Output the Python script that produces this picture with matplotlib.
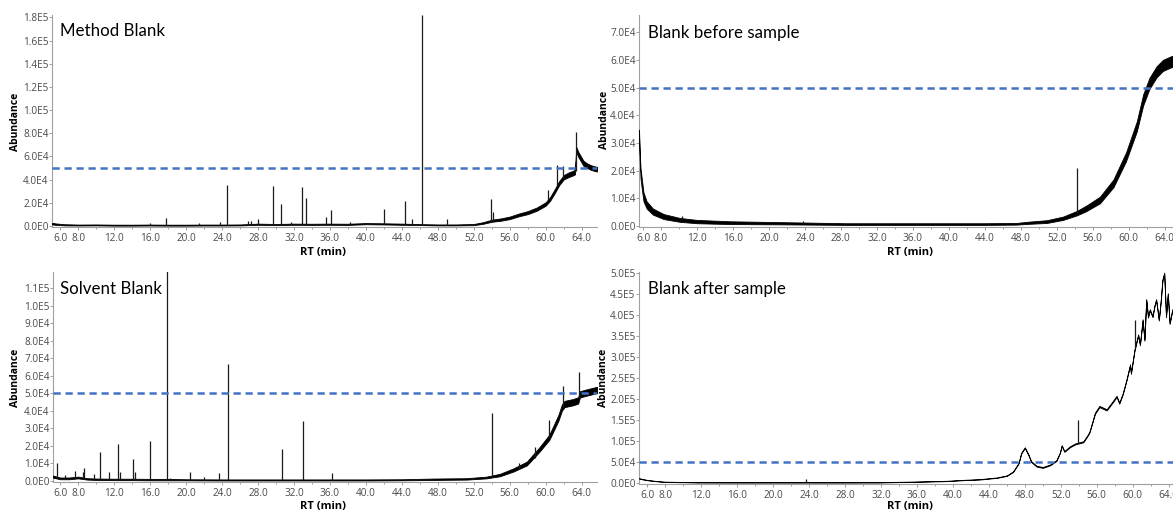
import numpy as np
import matplotlib.pyplot as plt
from matplotlib.ticker import FixedLocator, MultipleLocator, FuncFormatter

# retention-time axis ticks shared by all four chromatograms
rt_ticks = [6, 8, 12, 16, 20, 24, 28, 32, 36, 40, 44, 48, 52, 56, 60, 64]
threshold = 5e4

# ---- Method Blank: baseline (level +/- spread) and discrete peaks ----
mb_rt = [5.1, 5.6, 6.5, 8, 10, 12, 14, 16, 18, 20, 22, 24, 26, 28, 30, 32, 34, 36,
         38, 40, 42, 44, 46, 48, 50, 52, 53, 54, 55, 56, 57, 58, 59, 60, 60.5, 61,
         61.5, 62, 62.5, 63, 63.25, 63.4, 63.6, 63.9, 64.2, 64.6, 65, 65.4, 65.7]
mb_level = [2000, 1500, 1000, 800, 900, 700, 700, 800, 700, 700, 800, 800, 900, 1500,
            1200, 1500, 1400, 1500, 1400, 2000, 1800, 1500, 1200, 900, 900, 1200, 2500,
            4500, 5500, 7000, 9500, 11500, 14500, 19000, 23500, 30000, 37000, 42000,
            44000, 45500, 46500, 66000, 62000, 58000, 54000, 52000, 50500, 49500, 49000]
mb_spread = [700, 600, 500, 400, 400, 400, 400, 400, 400, 400, 400, 400, 400, 500,
             500, 500, 500, 500, 500, 500, 500, 500, 400, 400, 400, 500, 700, 900, 1000,
             1100, 1200, 1300, 1400, 1500, 1600, 1700, 1800, 1900, 2000, 2000, 2000,
             2200, 2200, 2200, 2200, 2000, 2000, 2000, 2000]
mb_peak_rt = [16.0, 17.8, 21.4, 23.8, 24.6, 26.9, 27.2, 28.0, 29.7, 30.6, 31.7, 32.9,
              33.3, 35.6, 36.1, 38.2, 42.0, 44.4, 45.1, 46.2, 49.0, 53.9, 54.1, 60.2,
              61.3, 61.9, 63.35]
mb_peak_base = [800, 700, 800, 800, 800, 900, 900, 1000, 1200, 1200, 1400, 1500,
                1500, 1500, 1500, 1400, 1800, 1500, 1400, 1200, 900, 4500, 4500, 22000,
                35000, 41000, 47000]
mb_peak_top = [2500, 6500, 2500, 3000, 35000, 4000, 4500, 6000, 34500, 19000, 3000,
               34000, 24000, 8000, 14000, 3000, 14700, 21500, 5800, 182000, 6000, 23000,
               12000, 31000, 53000, 52000, 81000]
mb_yticks = [0, 2e4, 4e4, 6e4, 8e4, 1e5, 1.2e5, 1.4e5, 1.6e5, 1.8e5]

# ---- Blank before sample ----
bb_rt = [5.55, 5.62, 5.72, 5.85, 6.05, 6.4, 7.1, 8.3, 10.1, 12, 15.7, 21.2, 28.6, 36,
         44, 47.5, 49, 50.9, 52.7, 54.2, 55.3, 56.8, 58.3, 59.7, 60.9, 61.6, 62.3,
         63.1, 63.8, 64.7, 65.7]
bb_level = [34000, 26000, 19000, 15500, 10500, 7600, 5200, 3400, 2200, 1600, 1200,
            1000, 700, 700, 700, 800, 1200, 1600, 2800, 4600, 6400, 9400, 15400, 25000,
            36000, 45500, 51500, 55700, 58000, 59300, 60000]
bb_spread = [800, 1500, 1800, 1800, 1600, 1300, 1100, 900, 700, 600, 500, 400, 300,
             300, 300, 300, 400, 500, 600, 800, 1000, 1200, 1400, 1600, 1800, 2000,
             2000, 2000, 2000, 2000, 2000]
bb_peak_rt = [10.3, 15.8, 23.8, 54.3]
bb_peak_base = [2200, 1100, 700, 4800]
bb_peak_top = [3600, 1800, 1800, 21000]
bb_yticks = [0, 1e4, 2e4, 3e4, 4e4, 5e4, 6e4, 7e4]

# ---- Solvent Blank ----
sb_rt = [5.2, 6, 7, 8, 9, 10, 12, 14, 16, 18, 20, 24, 28, 32, 36, 40, 44, 47.5, 51.2,
         53.4, 54.9, 56.4, 57.9, 59.3, 60.4, 61.4, 61.8, 62.1, 63.0, 63.6, 63.8, 64.5,
         65.3, 65.7]
sb_level = [2500, 1500, 1500, 2000, 1200, 1000, 900, 900, 800, 800, 700, 600, 600,
            600, 600, 600, 700, 1000, 1200, 2000, 3400, 6300, 10000, 18000, 25000,
            36000, 42000, 44000, 45000, 46000, 49500, 50500, 51500, 52000]
sb_spread = [600, 500, 500, 500, 400, 400, 400, 400, 400, 400, 300, 300, 300, 300,
             300, 300, 300, 400, 400, 500, 700, 900, 1100, 1300, 1500, 1700, 1800, 1800,
             1800, 1800, 1800, 1800, 1800, 1800]
sb_peak_rt = [5.6, 6.5, 7.6, 8.5, 8.7, 9.8, 10.4, 11.4, 12.4, 12.6, 14.1, 14.3, 16.0,
              17.9, 18.2, 20.4, 22.0, 23.7, 24.7, 30.7, 33.0, 36.2, 54.0, 57.0, 58.8,
              60.4, 61.9, 63.7]
sb_peak_base = [2000, 1500, 1500, 1800, 1800, 1100, 1000, 900, 900, 900, 900, 900, 800,
                800, 800, 700, 700, 650, 600, 600, 600, 600, 2500, 7000, 13000, 25000,
                42000, 48000]
sb_peak_top = [10300, 3400, 5700, 5000, 7400, 4000, 16600, 5100, 21000, 5000, 12700,
               5000, 23000, 122000, 2000, 5000, 2500, 4700, 67000, 18000, 34000, 4600,
               39000, 10500, 19400, 35000, 54000, 62000]
sb_yticks = [0, 1e4, 2e4, 3e4, 4e4, 5e4, 6e4, 7e4, 8e4, 9e4, 1e5, 1.1e5]

# ---- Blank after sample ----
ba_rt = [5.1, 5.5, 6.0, 7.0, 7.8, 9.5, 11.5, 16, 20, 28, 31.9, 35.6, 39.3, 41.1, 43.0,
         44.9, 46.0, 46.7, 47.3, 47.6, 48.0, 48.4, 48.7, 49.3, 50.0, 50.8, 51.5, 51.9,
         52.1, 52.4, 53.0, 53.6, 54.5, 55.0, 55.2, 55.8, 56.3, 57.1, 57.8, 58.2, 58.5,
         58.9, 59.3, 59.7, 59.8, 60.2, 60.6, 60.8, 61.1, 61.3, 61.5, 61.7, 61.9, 62.2,
         62.4, 62.6, 62.9, 63.1, 63.3, 63.5, 63.7, 63.9, 64.1, 64.4, 64.8, 65.2, 65.7]
ba_level = [11000, 9000, 7000, 4500, 3000, 2200, 1600, 1500, 1500, 1500, 1600, 3000,
            4800, 7000, 8700, 12700, 17500, 27000, 47000, 71000, 84000, 67000, 51000,
            40000, 37000, 43000, 53000, 72000, 89000, 75000, 86000, 93000, 98000,
            114000, 122000, 166000, 182000, 174000, 194000, 206000, 190000, 213000,
            245000, 281000, 261000, 317000, 352000, 329000, 388000, 340000, 436000,
            395000, 412000, 396000, 420000, 436000, 388000, 430000, 483000, 499000,
            396000, 450000, 380000, 412000, 370000, 400000, 385000]
ba_spread = [500, 500, 400, 300, 300, 300, 300, 300, 300, 300, 300, 400, 400, 400, 500,
             500, 600, 700, 800, 900, 1000, 1000, 1000, 1000, 1000, 1000, 1000, 1000,
             1000, 1000, 1200, 1200, 1200, 1200, 1200, 1500, 1500, 1500, 1500, 1500,
             1500, 1500, 1500, 1500, 1500, 1500, 1500, 1500, 1500, 1500, 1500, 1500,
             1500, 1500, 1500, 1500, 1500, 1500, 1500, 1500, 1500, 1500, 1500, 1500,
             1500, 1500, 1500]
ba_peak_rt = [23.7, 53.9, 60.3]
ba_peak_base = [1500, 96000, 320000]
ba_peak_top = [9000, 150000, 388000]
ba_yticks = [0, 5e4, 1e5, 1.5e5, 2e5, 2.5e5, 3e5, 3.5e5, 4e5, 4.5e5, 5e5]

W, H = 1173, 512
tick_font = 'Open Sans'
title_font = 'Lato'


def sci(v, pos=None):
    if v == 0:
        return '0.0E0'
    e = int(np.floor(np.log10(abs(v)) + 1e-9))
    return f'{v / 10 ** e:.1f}E{e}'


def px_box(left, right, bottom, top):
    return [left / W, 1 - bottom / H, (right - left) / W, (bottom - top) / H]


def draw(box, rt, level, spread, prt, pbase, ptop, yticks, xlim, ylim,
         title, title_xy, ylab_xy, xlab_xy):
    ax = fig.add_axes(px_box(*box))
    level = np.array(level, dtype=float)
    spread = np.array(spread, dtype=float)
    ax.fill_between(rt, level - spread, level + spread, color='black',
                    lw=0.6, zorder=3)
    ax.vlines(prt, pbase, ptop, color='#1a1a1a', lw=0.9, zorder=3)
    ax.axhline(threshold, color='#4472C4', lw=1.8, dashes=(2.9, 1.9), zorder=4)
    ax.set_xlim(*xlim)
    ax.set_ylim(*ylim)
    ax.xaxis.set_major_locator(FixedLocator(rt_ticks))
    ax.xaxis.set_major_formatter(FuncFormatter(lambda v, p: f'{v:.1f}'))
    ax.xaxis.set_minor_locator(MultipleLocator(2))
    ax.yaxis.set_major_locator(FixedLocator(yticks))
    ax.yaxis.set_major_formatter(FuncFormatter(sci))
    for s in ('top', 'right'):
        ax.spines[s].set_visible(False)
    for s in ('left', 'bottom'):
        ax.spines[s].set_color('#a0a0a0')
        ax.spines[s].set_linewidth(0.8)
    ax.tick_params(axis='both', which='both', colors='#a0a0a0', width=0.7,
                   labelcolor='#4a4a4a', labelsize=7.2)
    ax.tick_params(axis='y', length=2, pad=0.5)
    ax.tick_params(axis='x', which='major', length=2.5, pad=2)
    ax.tick_params(axis='x', which='minor', length=1.5)
    for lab in ax.get_xticklabels() + ax.get_yticklabels():
        lab.set_fontfamily(tick_font)
    fig.text(title_xy[0] / W, 1 - title_xy[1] / H, title, fontsize=12.2,
             fontfamily=title_font, va='center', ha='left')
    fig.text(ylab_xy[0] / W, 1 - ylab_xy[1] / H, 'Abundance', rotation=90,
             fontsize=7.5, fontweight='bold', fontfamily=tick_font,
             va='center', ha='center')
    fig.text(xlab_xy[0] / W, 1 - xlab_xy[1] / H, 'RT (min)', fontsize=8,
             fontweight='bold', fontfamily=tick_font, va='center', ha='center')
    return ax


fig = plt.figure(figsize=(W / 100, H / 100), dpi=100)

draw((52, 597, 227, 15), mb_rt, mb_level, mb_spread, mb_peak_rt, mb_peak_base,
     mb_peak_top, mb_yticks, (5.1, 65.7), (-900, 1.82e5),
     'Method Blank', (60, 31), (16, 122), (323, 252))
draw((639, 1180, 227, 15), bb_rt, bb_level, bb_spread, bb_peak_rt, bb_peak_base,
     bb_peak_top, bb_yticks, (5.55, 65.7), (-360, 7.62e4),
     'Blank before sample', (648, 33), (604, 120), (910, 252))
draw((53, 597, 482, 272), sb_rt, sb_level, sb_spread, sb_peak_rt, sb_peak_base,
     sb_peak_top, sb_yticks, (5.2, 65.7), (-570, 1.194e5),
     'Solvent Blank', (60, 289), (16, 378), (323, 506))
draw((639, 1184, 484, 272), ba_rt, ba_level, ba_spread, ba_peak_rt, ba_peak_base,
     ba_peak_top, ba_yticks, (5.1, 65.7), (-2400, 5.02e5),
     'Blank after sample', (648, 289), (603, 378), (910, 506))

fig.savefig('out.png', dpi=100)
